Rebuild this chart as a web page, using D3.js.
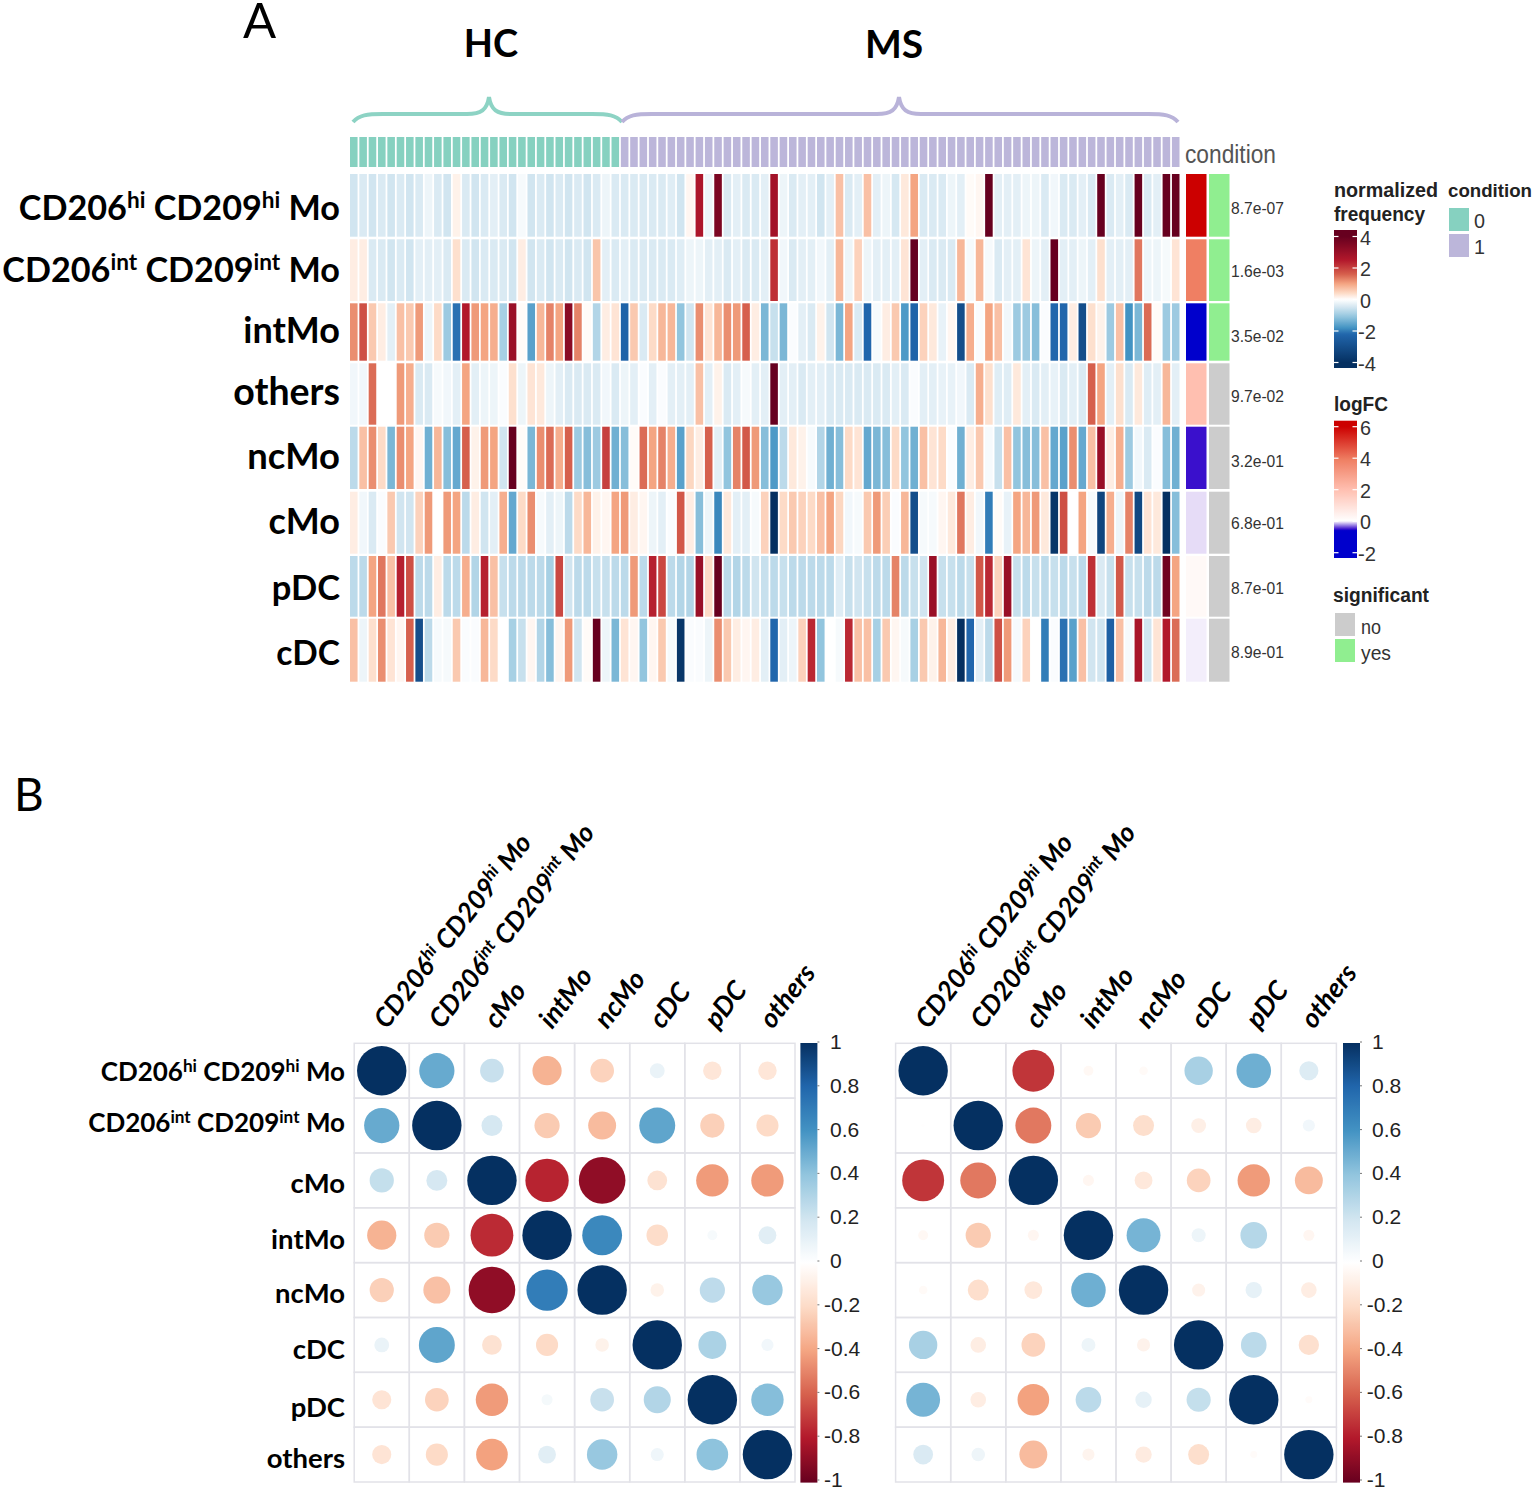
<!DOCTYPE html>
<html>
<head>
<meta charset="utf-8">
<script src="https://cdnjs.cloudflare.com/ajax/libs/d3/7.8.5/d3.min.js"></script>
<style>
html,body{margin:0;padding:0;background:#fff;}
svg{display:block;}
text{white-space:pre;}
</style>
</head>
<body>
<svg id="fig" width="1535" height="1494"></svg>
<script>
// ---------- Panel A data ----------
const heatRows = ["CD206^hi^ CD209^hi^ Mo","CD206^int^ CD209^int^ Mo","intMo","others","ncMo","cMo","pDC","cDC"];
const conditionCounts = [["0",29],["1",60]];
const rowCD206hi = [-.5,-.4,-.5,-.4,-.5,-.4,-.5,-.4,-.2,-.4,-.5,.15,-.4,-.5,-.4,-.3,-.4,-.5,-.1,-.5,-.4,-.5,-.4,-.5,-.4,-.5,-.4,-.2,-.4,
 -.4,-.4,-.4,-.4,-.4,-.35,-.5,.1,2.6,-.2,3.6,-.4,-.3,-.4,-.4,-.3,2.8,-.2,-.4,-.3,-.3,-.5,-.3,.7,-.4,-.3,.7,-.3,-.2,-.45,
 .25,1,-.4,-.4,-.4,-.2,-.3,.05,.1,4,-.3,-.3,-.3,-.2,-.2,-.4,-.15,-.4,-.4,-.3,-.4,4,-.4,-.3,-.4,4,-.4,-.3,4,4];
const rowCD206int = [.2,.2,-.4,-.4,-.5,-.4,-.5,-.3,-.3,-.3,-.4,.35,-.4,-.5,-.4,-.4,-.4,-.5,.2,-.5,-.4,-.5,-.4,-.5,-.4,-.5,.65,-.3,-.4,
 -.3,-.4,-.4,-.4,-.4,-.4,-.35,-.2,-.2,-.3,-.3,-.4,-.3,-.4,-.4,-.3,2.2,-.15,-.4,-.3,-.3,-.15,-.3,.8,-.2,.5,-.2,-.3,-.3,-.3,
 .3,4,-.3,-.4,-.4,-.4,.8,-.1,.8,-.1,-.4,-.3,-.3,.3,-.2,-.3,4,-.3,-.3,-.2,-.3,.35,-.3,-.3,-.3,1.4,-.2,-.2,-.1,.3];
const rowIntMo = [1.2,1.8,.6,.2,-.3,.7,.6,1.1,-.2,.4,-1,-2.1,2.5,1.1,1,.9,-.9,3,.05,-1.6,.8,1.3,1,3.3,1.3,.05,-.8,.2,.3,
 -2.3,.6,-.4,.4,.8,.8,-1.1,-.5,1.2,.3,.8,1.2,1.1,1.6,.2,-1.3,-.6,-1.3,-.05,-.3,-.4,.15,-.5,-1.3,1,-.4,-2.2,-.1,.2,.6,
 -1.7,-2.3,.5,.25,-.25,.1,-3,.9,-.05,1,.7,-.15,-1,-1,-1.2,-.05,-2.2,-2.2,.2,-3,.35,.15,-1,.7,-1.8,-1.3,1.5,.05,-1,-1];
const rowOthers = [-.15,-.15,1.5,0,0,1.1,.9,-.4,-.4,-.1,-.15,-.3,1,-.3,-.2,-.2,-.05,.35,-.2,.3,.25,-.2,-.3,-.4,-.4,-.4,-.4,-.15,-.4,
 -.2,-.3,-.05,-.3,-.05,-.3,-.3,-.3,.7,-.3,.15,-.4,-.3,-.1,-.3,-.3,4,-.3,-.3,-.4,-.3,-.3,-.4,-.4,-.4,-.4,-.4,-.4,-.4,-.3,
 -.4,-.05,-.3,-.3,-.25,-.25,-.15,-.4,.9,.35,-.35,-.35,.25,-.3,-.4,-.3,-.25,-.4,-.3,-.4,1.6,1,-.3,.35,-.4,.25,-.35,-.3,.8,-.3];
const rowNcMo = [-.7,.7,1.2,.4,-1.3,1.2,1,.1,-1.4,.8,-1.2,-1.5,1.6,.15,1.1,1,-.5,4,.05,-1.3,1.2,1.5,.9,1.6,-1,-1.2,-1,2,-1.4,
 -1.2,.05,1.5,1,1.3,.9,-1.6,.45,.2,1.6,-.3,-1.1,1.3,1.7,1.1,-1.2,-1.7,-.7,.25,.15,-.1,-.8,-1.4,-1.2,.4,.3,-1.5,-1.3,-1.2,.4,
 -1.1,-1.4,.7,.3,.4,-.05,-1.4,.2,.6,-.1,-.6,.7,-1.1,-1.2,-1.2,.7,-1.5,-1.6,1.2,-1.5,.7,3,.2,.9,-1,-.15,-.4,-.05,-1.2,-1.4];
const rowCMo = [.2,-.15,-.4,-.05,.6,-.5,-.5,.5,1.1,0,1.1,1,-.7,.2,-.5,-.3,.9,-1.5,.4,1.2,-.1,-.3,-.2,-.7,.4,.8,.15,.1,1,
 1.1,.2,.1,-.2,-.3,-.05,1.7,.2,-1.2,-.2,-1.9,.25,-.3,-.3,-.1,.5,-4,.4,.6,.5,.4,.7,1,.45,-.15,-.1,.6,1.1,.55,-.05,
 .8,-3,-.1,-.1,.1,.25,1.4,.2,-.15,-2,.05,-.25,1,.8,1.1,.25,-3.8,1.8,0,1,-.1,-3.3,.9,-.2,1.3,-3.2,.3,.25,-4,-1.2];
const rowPDC = [-.7,-.7,1,1.4,.7,2.4,1.8,-.7,-.7,.2,-.7,-.7,.9,-.8,2.4,.7,-.6,-.7,-.7,-.7,-.7,-.9,1.9,-.5,-.7,-.7,-.6,-.6,-.7,
 -.7,1.1,-.7,2.4,1.9,-.7,-.8,-.8,3,.4,4,-.7,-.8,-.7,-.5,-.6,-.7,-.6,-.7,-.7,-.7,-.7,-.7,-.35,-.6,-.5,-.6,-.7,-.7,1.3,
 -.7,-.6,-.5,3,-.6,-.6,-.7,-.6,1.7,2.3,.5,3,-.6,-.7,-.6,-.7,-.6,-.7,-.6,-.7,2.2,-.4,-.6,1.7,-.6,-.6,-.7,-.7,3.8,1];
const rowCDC = [.7,-.2,.35,1.2,.3,.1,1.6,-3,-.7,-.1,-.1,.6,-.05,-.05,.8,.4,0,-.9,-.6,.1,-.8,-1.2,.1,1.1,-.5,.05,4,-.2,-1.3,
 .3,.1,-1.1,.1,.6,-.1,-3.8,-.05,-.05,-.2,1.2,.6,.2,.1,.2,-.3,-2.2,-.3,-.2,.5,2.3,-1.1,0,-.1,2.3,.7,.7,-.9,.6,.1,
 -.1,-.9,.6,.15,.8,.2,-4,-2.2,-.3,-.7,1.8,1.1,-.1,.5,0,-2,-.05,-2.1,-1.6,.7,-.5,-.5,-2.4,.7,-.1,2.7,-.5,.3,2.5,1.5];
const heatValues = [rowCD206hi,rowCD206int,rowIntMo,rowOthers,rowNcMo,rowCMo,rowPDC,rowCDC];
const logFC = [6,3.9,-2,2,-.5,-.06,.2,-.03];
const significant = ["yes","yes","yes","no","no","no","no","no"];
const pValues = ["8.7e-07","1.6e-03","3.5e-02","9.7e-02","3.2e-01","6.8e-01","8.7e-01","8.9e-01"];
const freqTicks = [4,2,0,-2,-4];
const logFCTicks = [6,4,2,0,-2];

// ---------- Panel B data ----------
const corrNames = ["CD206^hi^ CD209^hi^ Mo","CD206^int^ CD209^int^ Mo","cMo","intMo","ncMo","cDC","pDC","others"];
const corrLeft = [
 [1,.51,.23,-.35,-.23,.09,-.14,-.14],
 [.51,1,.18,-.26,-.32,.53,-.24,-.2],
 [.24,.18,1,-.77,-.89,-.16,-.43,-.43],
 [-.35,-.26,-.75,1,.65,-.19,.04,.13],
 [-.24,-.3,-.89,.7,1,-.075,.26,.38],
 [.09,.53,-.16,-.2,-.075,1,.32,.06],
 [-.15,-.23,-.43,.05,.23,.3,1,.43],
 [-.15,-.2,-.41,.13,.38,.07,.41,1]];
const corrRight = [
 [1,0,-.72,-.04,-.03,.33,.49,.15],
 [-.005,1,-.53,-.26,-.18,-.09,-.1,.06],
 [-.72,-.53,1,-.05,-.13,-.23,-.43,-.32],
 [-.04,-.26,-.05,1,.47,.08,.29,-.05],
 [-.03,-.18,-.13,.49,1,-.07,.11,-.1],
 [.33,-.1,-.23,.08,-.07,1,.27,-.17],
 [.47,-.1,-.41,.27,.11,.24,1,-.02],
 [.16,.075,-.32,-.06,-.11,-.18,-.02,1]];
const corrTicks = [1,.8,.6,.4,.2,0,-.2,-.4,-.6,-.8,-1];

// ---------- scales and layout ----------
const LATO = "Lato, Carlito, sans-serif";
const ARIAL = "'Liberation Sans',Arial,sans-serif";
const svg = d3.select("#fig");
const defs = svg.append("defs");

const freqColor = d3.scaleLinear()
  .domain([-4,-2.2,-1.8,-1.1,-.5,0,.4,1,1.6,2.5,4])
  .range(["#053061","#2166ac","#4393c3","#92c5de","#d1e5f0","#ffffff","#fddbc7","#f4a582","#d6604d","#b2182b","#67001f"]);
const fcColor = d3.scaleLinear()
  .domain([-2,-.6,-.5,-.06,0,2,3.9,6])
  .range(["#0000cc","#0000cc","#3a10cc","#e6dcf7","#ffffff","#ffbfb0","#ef7f63","#cc0000"]);
const condColor = d3.scaleOrdinal(["0","1"],["#86d1c0","#bcb6da"]);
const sigColor = d3.scaleOrdinal(["no","yes"],["#cccccc","#90ee90"]);
const corrColor = d3.scaleLinear()
  .domain([-1,-.8,-.6,-.4,-.2,0,.2,.4,.6,.8,1])
  .range(["#67001f","#b2182b","#d6604d","#f4a582","#fddbc7","#ffffff","#d1e5f0","#92c5de","#4393c3","#2166ac","#053061"]);

const nCols = d3.sum(conditionCounts,d=>d[1]);
const xHeat = d3.scaleBand().domain(d3.range(nCols)).range([350,1179.5]).paddingInner(.19).paddingOuter(0);
const rowTop = d3.scaleOrdinal(heatRows,[174,239.3,303.3,363.3,426.7,491.7,556,618.7]);
const rowBottom = d3.scaleOrdinal(heatRows,[236.7,301,360.7,424.7,489,553.7,616.7,681.7]);
const rowBaseline = d3.scaleOrdinal(heatRows,[220,282,343,405,469,534,600,665]);
const rowSize = d3.scaleOrdinal(heatRows,[34.2,34.2,36,37.5,36.4,36,34.5,33.5]);
const pY = d3.scaleOrdinal(heatRows,[214,277,342,402,467,529,594,658]);

function rich(sel,str,base){
  // "a^b^c" -> normal / superscript / normal tspans
  const parts = str.split("^");
  const supSize = base*.66, lift = base*.34;
  parts.forEach((p,i)=>{
    const sup = i%2===1;
    sel.append("tspan")
      .attr("font-size",sup?supSize:base)
      .attr("dy",sup?-lift:(i>0?lift:0))
      .text(p);
  });
}

// ---------- Panel A ----------
const condSeq = conditionCounts.flatMap(([k,n])=>d3.range(n).map(()=>k));
svg.append("g").selectAll("rect").data(condSeq).join("rect")
  .attr("x",(d,i)=>xHeat(i)).attr("y",137).attr("width",xHeat.bandwidth()).attr("height",30)
  .attr("fill",d=>condColor(d));

heatRows.forEach((name,r)=>{
  svg.append("g").selectAll("rect").data(heatValues[r]).join("rect")
    .attr("x",(d,i)=>xHeat(i)).attr("y",rowTop(name))
    .attr("width",xHeat.bandwidth()).attr("height",rowBottom(name)-rowTop(name))
    .attr("fill",d=>freqColor(d));
  svg.append("rect").attr("x",1186).attr("y",rowTop(name)).attr("width",20.5)
    .attr("height",rowBottom(name)-rowTop(name)).attr("fill",fcColor(logFC[r]));
  svg.append("rect").attr("x",1209).attr("y",rowTop(name)).attr("width",20.5)
    .attr("height",rowBottom(name)-rowTop(name)).attr("fill",sigColor(significant[r]));
  svg.append("text").attr("x",1231).attr("y",pY(name))
    .attr("font-family",ARIAL).attr("font-size",17).attr("fill","#333")
    .attr("textLength",53).attr("lengthAdjust","spacingAndGlyphs").text(pValues[r]);
  const t = svg.append("text").attr("x",340).attr("y",rowBaseline(name))
    .attr("text-anchor","end").attr("font-family",LATO).attr("font-weight",700).attr("fill","#000");
  rich(t,name,rowSize(name));
});

svg.append("text").attr("x",1185).attr("y",163).attr("font-family",ARIAL).attr("font-size",25)
  .attr("fill","#555").attr("textLength",91).attr("lengthAdjust","spacingAndGlyphs").text("condition");

// panel letters & group labels
svg.append("text").attr("x",243).attr("y",38).attr("font-family",LATO).attr("font-size",49).attr("fill","#000").text("A");
svg.append("text").attr("x",14).attr("y",811).attr("font-family",LATO).attr("font-size",46).attr("fill","#000").text("B");
svg.append("text").attr("x",491).attr("y",57).attr("text-anchor","middle").attr("font-family",LATO).attr("font-weight",700).attr("font-size",38).attr("fill","#000").text("HC");
svg.append("text").attr("x",894).attr("y",58).attr("text-anchor","middle").attr("font-family",LATO).attr("font-weight",700).attr("font-size",39).attr("fill","#000").text("MS");

function brace(x0,x1,tip,color){
  const p = d3.path();
  p.moveTo(x0,122); p.bezierCurveTo(x0+6,115,x0+14,114,x0+30,114);
  p.lineTo(tip-22,114); p.bezierCurveTo(tip-8,114,tip-2,110,tip,97);
  p.bezierCurveTo(tip+2,110,tip+8,114,tip+22,114);
  p.lineTo(x1-30,114); p.bezierCurveTo(x1-14,114,x1-6,115,x1,122);
  svg.append("path").attr("d",p.toString()).attr("fill","none").attr("stroke",color).attr("stroke-width",4);
}
brace(353,622,489,"#8dd3c4");
brace(622,1178,899,"#b9b3d9");

// legends
function gradient(id,scale,lo,hi){
  const g = defs.append("linearGradient").attr("id",id).attr("x1",0).attr("x2",0).attr("y1",1).attr("y2",0);
  d3.range(0,1.0001,.01).forEach(t=>{
    const v = lo+(hi-lo)*t;
    g.append("stop").attr("offset",t).attr("stop-color",scale(v));
  });
}
function title(x,y,len,txt,size){
  svg.append("text").attr("x",x).attr("y",y).attr("font-family",ARIAL).attr("font-weight",700)
    .attr("font-size",size||20).attr("fill","#222").attr("textLength",len).attr("lengthAdjust","spacingAndGlyphs").text(txt);
}
function tickLabel(x,y,len,txt){
  svg.append("text").attr("x",x).attr("y",y).attr("font-family",ARIAL).attr("font-size",21).attr("fill","#333")
    .attr("textLength",len).attr("lengthAdjust","spacingAndGlyphs").text(txt);
}
function heatLegend(id,scale,ticks,y0,y1,top,bottom){
  const yS = d3.scaleLinear().domain([ticks[ticks.length-1],ticks[0]]).range([bottom,top]);
  const loV = yS.invert(y1), hiV = yS.invert(y0);
  gradient(id,v=>scale(Math.max(ticks[ticks.length-1],Math.min(ticks[0],v))),loV,hiV);
  svg.append("rect").attr("x",1334).attr("y",y0).attr("width",23).attr("height",y1-y0).attr("fill",`url(#${id})`);
  ticks.forEach(t=>{
    [1334,1352.5].forEach(x=>svg.append("line").attr("x1",x).attr("x2",x+4.5).attr("y1",yS(t)).attr("y2",yS(t))
      .attr("stroke","#fff").attr("stroke-width",1.2));
    const s = String(t);
    tickLabel(t<0?1358:1360,yS(t)+8,s.length>1?18:11,s);
  });
}
title(1334,197,104,"normalized");
title(1334,221,91,"frequency");
heatLegend("gFreq",freqColor,freqTicks,230,368,236.5,362.5);
title(1334,411,54,"logFC");
heatLegend("gFC",fcColor,logFCTicks,420.7,558,426.7,552.7);
title(1333,602,96,"significant");
title(1448,197,84,"condition",19);
condColor.domain().forEach((k,i)=>{
  svg.append("rect").attr("x",1449).attr("y",208+i*26).attr("width",20).attr("height",23).attr("fill",condColor(k));
  tickLabel(1474,228+i*26,11,k);
});
[["no",20],["yes",30]].forEach(([k,w],i)=>{
  svg.append("rect").attr("x",1335).attr("y",613+i*26).attr("width",20).attr("height",23).attr("fill",sigColor(k));
  tickLabel(1361,634+i*26,w,k);
});

// ---------- Panel B ----------
function corrPanel(id,values,x0,x1,barX,posX,negX){
  const y0 = 1043.3, y1 = 1482;
  const x = d3.scaleBand().domain(corrNames).range([x0,x1]);
  const y = d3.scaleBand().domain(corrNames).range([y0,y1]);
  const r = d3.scaleSqrt().domain([0,1]).range([0,24.7]);
  const g = svg.append("g");
  corrNames.forEach((rowName,i)=>{
    g.append("g").selectAll("rect").data(values[i]).join("rect")
      .attr("x",(d,j)=>x(corrNames[j])).attr("y",y(rowName))
      .attr("width",x.bandwidth()).attr("height",y.bandwidth())
      .attr("fill","none").attr("stroke","#e2e2e8").attr("stroke-width",1.5);
  });
  corrNames.forEach((rowName,i)=>{
    g.append("g").selectAll("circle").data(values[i]).join("circle")
      .attr("cx",(d,j)=>x(corrNames[j])+x.bandwidth()/2)
      .attr("cy",y(rowName)+y.bandwidth()/2)
      .attr("r",d=>r(Math.abs(d))).attr("fill",d=>corrColor(d));
  });
  // top labels
  corrNames.forEach(n=>{
    const cx = x(n)+x.bandwidth()/2+5;
    const t = g.append("text").attr("transform",`translate(${cx},1030) rotate(-52)`)
      .attr("font-family",LATO).attr("font-weight",700).attr("font-style","italic").attr("fill","#000");
    rich(t,n,n.includes("^")?26.5:27);
  });
  // colour bar
  const yBar = d3.scaleLinear().domain([-1,1]).range([1480,1042]);
  gradient(id,corrColor,-1,1);
  g.append("rect").attr("x",barX).attr("y",1043).attr("width",17).attr("height",439.6).attr("fill",`url(#${id})`);
  corrTicks.forEach(t=>{
    g.append("line").attr("x1",barX+17).attr("x2",barX+19).attr("y1",yBar(t)).attr("y2",yBar(t)).attr("stroke","#777");
    g.append("text").attr("x",t<0?negX:posX).attr("y",yBar(t)+7).attr("font-family",ARIAL).attr("font-size",21)
      .attr("fill","#222").text(String(t));
  });
}
corrPanel("gL",corrLeft,354.2,795,800.4,830,824);
corrPanel("gR",corrRight,895.6,1336.4,1343,1372,1366.8);

// row labels of panel B (left side only)
const corrRowY = d3.scaleOrdinal(corrNames,[1081,1132,1193,1249,1303,1359,1417,1468]);
corrNames.forEach(n=>{
  const t = svg.append("text").attr("x",345).attr("y",corrRowY(n)).attr("text-anchor","end")
    .attr("font-family",LATO).attr("font-weight",700).attr("fill","#000");
  rich(t,n,n.includes("^")?26:27.5);
});
</script>
</body>
</html>
